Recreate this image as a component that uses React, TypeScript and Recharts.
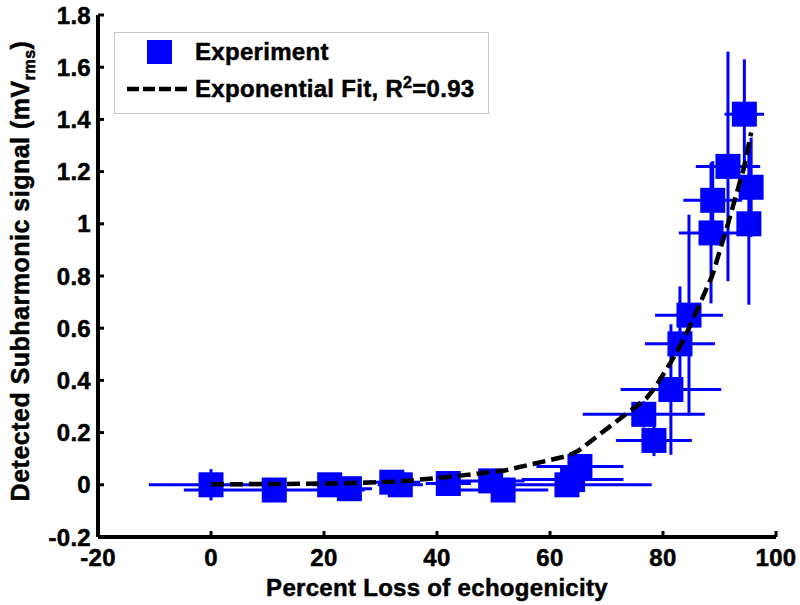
import React from "react";
import {
  ComposedChart,
  Scatter,
  ErrorBar,
  XAxis,
  YAxis,
} from "recharts";

// percent loss of echogenicity (x), detected signal (y), and their errors
const expX = [0, 11.2, 21, 24.5, 32, 33.5, 42, 49.5, 51.7, 63, 64, 65.3, 76.6, 78.4, 81.4, 83, 84.6, 88.5, 88.8, 91.5, 94.4, 95.6, 95.2];
const expY = [0, -0.02, 0, -0.015, 0.01, 0, 0.005, 0.015, -0.02, 0, 0.02, 0.07, 0.27, 0.17, 0.365, 0.54, 0.65, 0.965, 1.09, 1.22, 1.42, 1.14, 1.0];
const errX = [11, 16, 3, 4, 5, 4, 4, 6, 8, 15, 9, 7.7, 10.8, 6.7, 8.9, 6.2, 6, 5.7, 5.2, 5.7, 3.5, 1.5, 1.5];
const errY = [0.06, 0.02, 0.03, 0.04, 0.03, 0.02, 0.03, 0.02, 0.02, 0.02, 0.02, 0.03, 0.05, 0.06, 0.25, 0.22, 0.385, 0.27, 0.15, 0.44, 0.21, 0.19, 0.31];

// exponential fit, read at the measured x positions
const fitX = [0, 11, 21, 25, 33, 42, 50, 52, 63, 65, 77, 78.5, 81.4, 83, 84.6, 88.7, 91.5, 94.4, 95.6];
const fitY = [0.002, 0.003, 0.005, 0.007, 0.012, 0.03, 0.05, 0.055, 0.11, 0.13, 0.33, 0.37, 0.47, 0.53, 0.6, 0.8, 1.0, 1.22, 1.35];

const xTicks = [-20, 0, 20, 40, 60, 80, 100];
const yTicks = [-0.2, 0, 0.2, 0.4, 0.6, 0.8, 1, 1.2, 1.4, 1.6, 1.8];

const experiment = expX.map((x, i) => ({ x, y: expY[i], ex: errX[i], ey: errY[i] }));
const fit = fitX.map((x, i) => ({ x, y: fitY[i] }));

const FONT = "'Liberation Sans', Arial, Helvetica, sans-serif";
const BLUE = "#0000ff";

const Square = (props: any) => {
  const { cx, cy } = props;
  if (cx == null || cy == null) return null;
  return <rect x={cx - 12.5} y={cy - 12.5} width={25} height={25} fill={BLUE} />;
};

const NoDot = () => null;

// heavy bold text like the original figure
const heavy = { stroke: "#000", strokeWidth: 0.5, letterSpacing: 0.3 };

const tickStyle = {
  fontSize: 24,
  fontWeight: "bold",
  fill: "#000",
  fontFamily: FONT,
  ...heavy,
};

const fmtY = (v: number) => String(Math.round(v * 10) / 10);

const XTitle = (props: any) => {
  const { viewBox } = props;
  return (
    <text
      x={viewBox.x + viewBox.width / 2}
      y={viewBox.y + 59}
      textAnchor="middle"
      fontSize={24}
      fontWeight="bold"
      fontFamily={FONT}
      fill="#000"
      {...heavy}
    >
      Percent Loss of echogenicity
    </text>
  );
};

const YTitle = () => (
  <text
    x={29}
    y={271}
    transform="rotate(-90, 29, 271)"
    textAnchor="middle"
    fontSize={25}
    fontWeight="bold"
    fontFamily={FONT}
    fill="#000"
    stroke="#000"
    strokeWidth={0.5}
    letterSpacing={0.5}
  >
    Detected Subharmonic signal (mV
    <tspan fontSize={16} dy={6}>rms</tspan>
    <tspan dy={-6}>)</tspan>
  </text>
);

export default function App() {
  return (
    <div style={{ position: "absolute", left: 0, top: 0, width: 800, height: 605, background: "#fff" }}>
      <ComposedChart
        width={800}
        height={605}
        data={experiment}
        margin={{ top: 15, right: 24, bottom: 0, left: 0 }}
      >
        <XAxis
          dataKey="x"
          type="number"
          domain={[-20, 100]}
          ticks={xTicks}
          allowDataOverflow
          height={68}
          axisLine={{ stroke: "#000", strokeWidth: 4 }}
          tickLine={{ stroke: "#000", strokeWidth: 3 }}
          tickSize={-6}
          tickMargin={18}
          tick={tickStyle}
          label={<XTitle />}
        />
        <XAxis
          xAxisId="top"
          orientation="top"
          type="number"
          domain={[-20, 100]}
          ticks={xTicks}
          allowDataOverflow
          height={0}
          axisLine={{ stroke: "#000", strokeWidth: 4 }}
          tickLine={{ stroke: "#000", strokeWidth: 3 }}
          tickSize={-6}
          tickFormatter={() => ""}
        />
        <YAxis
          dataKey="y"
          type="number"
          domain={[-0.2, 1.8]}
          ticks={yTicks}
          allowDataOverflow
          width={98}
          axisLine={{ stroke: "#000", strokeWidth: 4 }}
          tickLine={{ stroke: "#000", strokeWidth: 3 }}
          tickSize={-6}
          tickMargin={13}
          tick={tickStyle}
          tickFormatter={fmtY}
          label={<YTitle />}
        />
        <YAxis
          yAxisId="right"
          orientation="right"
          type="number"
          domain={[-0.2, 1.8]}
          ticks={yTicks}
          allowDataOverflow
          width={0}
          axisLine={{ stroke: "#000", strokeWidth: 4 }}
          tickLine={{ stroke: "#000", strokeWidth: 3 }}
          tickSize={-6}
          tickFormatter={() => ""}
        />
        <Scatter data={experiment} dataKey="y" shape={<Square />} isAnimationActive={false}>
          <ErrorBar dataKey="ex" direction="x" width={0} stroke={BLUE} strokeWidth={3} />
          <ErrorBar dataKey="ey" direction="y" width={0} stroke={BLUE} strokeWidth={3} />
        </Scatter>
        <Scatter
          data={fit}
          dataKey="y"
          shape={<NoDot />}
          line={{ stroke: "#000", strokeWidth: 4.5, strokeDasharray: "13 6" }}
          isAnimationActive={false}
        />
      </ComposedChart>
      <div
        style={{
          position: "absolute",
          left: 114,
          top: 32,
          width: 373,
          height: 80,
          border: "1px solid #c8c8c8",
          background: "#fff",
          fontFamily: FONT,
          fontWeight: "bold",
          fontSize: 24,
          letterSpacing: 0.3,
          WebkitTextStroke: "0.5px #000",
          color: "#000",
        }}
      >
        <div style={{ position: "absolute", left: 32, top: 7, width: 25, height: 24, background: BLUE }} />
        <div style={{ position: "absolute", left: 80, top: 5, lineHeight: "28px" }}>Experiment</div>
        <svg style={{ position: "absolute", left: 12, top: 52 }} width={64} height={8}>
          <line x1={0} y1={4} x2={64} y2={4} stroke="#000" strokeWidth={4.5} strokeDasharray="12 4" />
        </svg>
        <div style={{ position: "absolute", left: 80, top: 42, lineHeight: "28px", whiteSpace: "nowrap" }}>
          Exponential Fit, R<sup style={{ fontSize: 16, verticalAlign: "9px", lineHeight: 0 }}>2</sup>=0.93
        </div>
      </div>
    </div>
  );
}
